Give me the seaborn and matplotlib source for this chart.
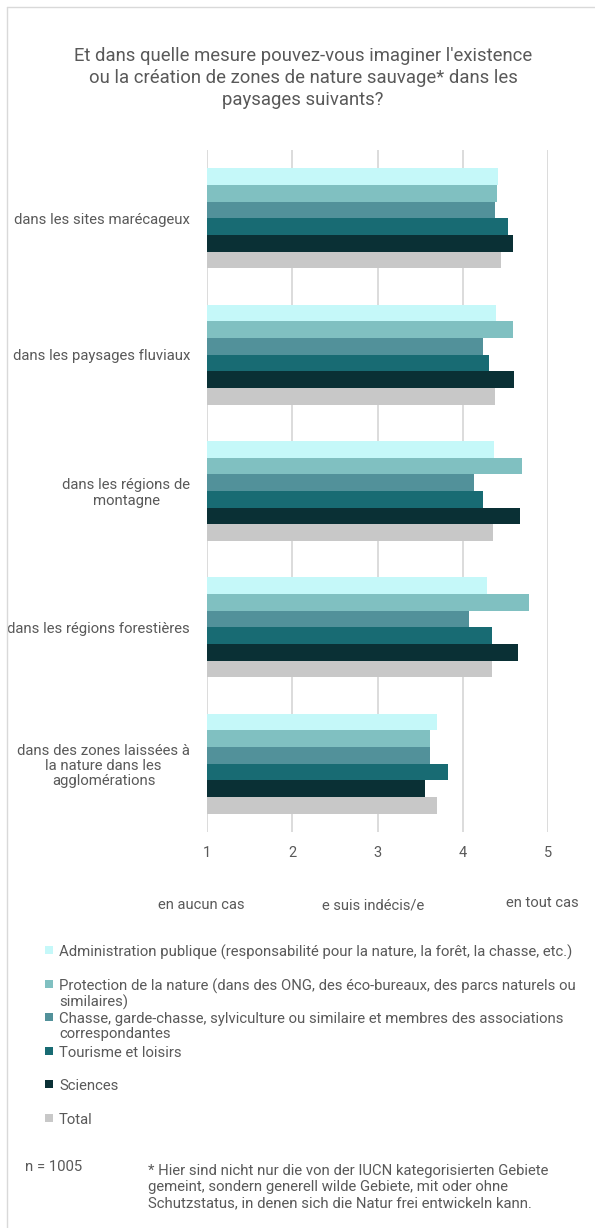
import matplotlib
matplotlib.use("Agg")
import matplotlib.pyplot as plt
from matplotlib.lines import Line2D
from matplotlib.patches import Rectangle
import numpy as np
import pandas as pd
import seaborn as sns

# Landscape categories (y axis)
landscapes = [
    "dans les sites marécageux",
    "dans les paysages fluviaux",
    "dans les régions de\nmontagne",
    "dans les régions forestières",
    "dans des zones laissées à\nla nature dans les\nagglomérations",
]

# Respondent groups (hue)
groups = [
    "Administration publique (responsabilité pour la nature, la forêt, la chasse, etc.)",
    "Protection de la nature (dans des ONG, des éco-bureaux, des parcs naturels ou\nsimilaires)",
    "Chasse, garde-chasse, sylviculture ou similaire et membres des associations\ncorrespondantes",
    "Tourisme et loisirs",
    "Sciences",
    "Total",
]

# Mean scores (1 = en aucun cas ... 5 = en tout cas), per landscape
administration = [4.41, 4.39, 4.37, 4.28, 3.70]
protection = [4.40, 4.59, 4.69, 4.77, 3.62]
chasse = [4.38, 4.23, 4.13, 4.07, 3.62]
tourisme = [4.53, 4.30, 4.23, 4.34, 3.83]
sciences = [4.59, 4.60, 4.67, 4.64, 3.56]
total = [4.45, 4.38, 4.35, 4.34, 3.70]

colors = ["#C5F8F9", "#80C0C1", "#52919A", "#186B73", "#0A3035", "#C8C8C8"]

x_ticks = [1, 2, 3, 4, 5]
scale_labels = ["en aucun cas", "e suis indécis/e", "en tout cas"]

title = ("Et dans quelle mesure pouvez-vous imaginer l'existence\n"
         "ou la création de zones de nature sauvage* dans les\n"
         "paysages suivants?")
sample_note = "n = 1005"
footnote = ("* Hier sind nicht nur die von der IUCN kategorisierten Gebiete\n"
            "gemeint, sondern generell wilde Gebiete, mit oder ohne\n"
            "Schutzstatus, in denen sich die Natur frei entwickeln kann.")

series = [administration, protection, chasse, tourisme, sciences, total]
rows = []
for g, vals in zip(groups, series):
    for land, v in zip(landscapes, vals):
        rows.append({"paysage": land, "groupe": g, "score": v})
df = pd.DataFrame(rows)

sns.set_theme(style="white")
plt.rcParams["font.family"] = ["Roboto", "DejaVu Sans"]
TXT = "#595959"

W, H = 595, 1228
fig = plt.figure(figsize=(W / 100, H / 100), dpi=100)
fig.patch.set_facecolor("white")

ax = fig.add_axes([206.7 / W, 1 - 832 / H, (548.3 - 206.7) / W, (832 - 150) / H])

sns.barplot(
    data=df, y="paysage", x="score", hue="groupe",
    order=landscapes, hue_order=groups, palette=colors,
    orient="h", width=0.733, gap=0, ax=ax, legend=False,
    saturation=1, edgecolor="none",
)

# bars start at 1 (scale origin)
for patch in ax.patches:
    w = patch.get_width()
    patch.set_x(1)
    patch.set_width(w - 1)

ax.set_xlim(1, 5)
ax.set_xticks(x_ticks)
ax.set_xticklabels([str(t) for t in x_ticks])
ax.xaxis.grid(True, color="#D9D9D9", linewidth=1.3)
ax.yaxis.grid(False)
ax.set_axisbelow(True)
for s in ax.spines.values():
    s.set_visible(False)
ax.set_xlabel("")
ax.set_ylabel("")
ax.tick_params(axis="x", length=0, pad=10, labelsize=10.5, labelcolor=TXT)
ax.tick_params(axis="y", length=0, pad=12, labelsize=10.7, labelcolor=TXT)
for lbl in ax.get_yticklabels():
    lbl.set_multialignment("center")
    lbl.set_linespacing(1.13)

# Title
fig.text(303 / W, 1 - 78 / H, title, ha="center", va="center", fontsize=13.3,
         color=TXT, linespacing=1.28, multialignment="center")

# Scale descriptions under the axis
fig.text(201 / W, 1 - 905 / H, scale_labels[0], ha="center", va="center",
         fontsize=10.6, color=TXT)
fig.text(373 / W, 1 - 905 / H, scale_labels[1], ha="center", va="center",
         fontsize=10.6, color=TXT)
fig.text(542 / W, 1 - 903 / H, scale_labels[2], ha="center", va="center",
         fontsize=10.6, color=TXT)

# Legend
slot = 33.6
for i, (g, c) in enumerate(zip(groups, colors)):
    yc = 950 + i * slot
    fig.patches.append(Rectangle((45 / W, 1 - (yc + 4) / H), 8 / W, 8 / H,
                                 transform=fig.transFigure, facecolor=c,
                                 edgecolor="none"))
    fig.text(59 / W, 1 - (yc - 5) / H, g, ha="left", va="top",
             fontsize=10.7, color=TXT, linespacing=1.05)

# Footer
fig.text(25 / W, 1 - 1167 / H, sample_note, ha="left", va="center",
         fontsize=10.7, color=TXT)
fig.text(148 / W, 1 - 1164 / H, footnote, ha="left", va="top",
         fontsize=10.7, color=TXT, linespacing=1.18)

# Frame lines
fig.add_artist(Line2D([7 / W, 7 / W], [0, 1 - 7 / H], transform=fig.transFigure,
                      color="#D9D9D9", linewidth=1))
fig.add_artist(Line2D([7 / W, 1], [1 - 7 / H, 1 - 7 / H], transform=fig.transFigure,
                      color="#D9D9D9", linewidth=1))

fig.savefig("out.png", dpi=100, facecolor="white")
